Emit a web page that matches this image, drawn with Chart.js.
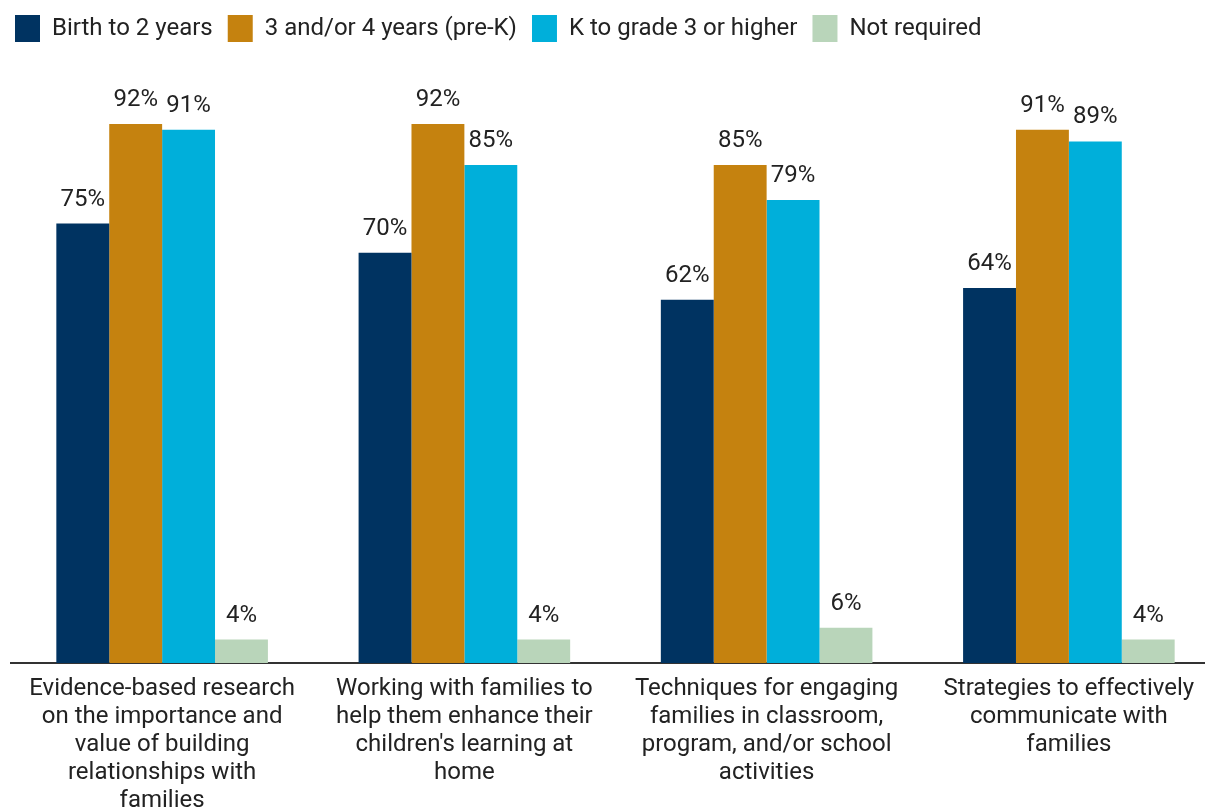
<!DOCTYPE html>
<html>
<head>
<meta charset="utf-8">
<script src="https://cdn.jsdelivr.net/npm/chart.js@4/dist/chart.umd.min.js"></script>
<style>
  html, body { margin: 0; padding: 0; background: #fff; overflow: hidden; }
  #wrap { width: 1220px; height: 810px; position: relative; }
</style>
</head>
<body>
<div id="wrap"><canvas id="trainingChart"></canvas></div>
<script>
const topics = [
    ['Evidence-based research', 'on the importance and', 'value of building', 'relationships with', 'families'],
    ['Working with families to', 'help them enhance their', "children's learning at", 'home'],
    ['Techniques for engaging', 'families in classroom,', 'program, and/or school', 'activities'],
    ['Strategies to effectively', 'communicate with', 'families']
];

const seriesNames = ['Birth to 2 years', '3 and/or 4 years (pre-K)', 'K to grade 3 or higher', 'Not required'];
const birthTo2 = [75, 70, 62, 64];
const preK = [92, 92, 85, 91];
const kTo3 = [91, 85, 79, 89];
const notRequired = [4, 4, 6, 4];
const colors = ['#003361', '#C5820F', '#00AFDA', '#B9D5BA'];

const textColor = '#222222';
const fontFamily = 'Roboto, "Noto Sans", sans-serif';

// value labels above each bar
const barLabels = {
    id: 'barLabels',
    afterDatasetsDraw(chart) {
        const ctx = chart.ctx;
        ctx.save();
        ctx.font = '24px ' + fontFamily;
        ctx.fillStyle = textColor;
        ctx.textAlign = 'center';
        ctx.textBaseline = 'middle';
        chart.data.datasets.forEach((ds, i) => {
            chart.getDatasetMeta(i).data.forEach((bar, j) => {
                ctx.fillText(ds.data[j] + '%', bar.x, bar.y - 24);
            });
        });
        ctx.restore();
    }
};

// keep a fixed gap between the legend and the plot
const legendSpace = {
    id: 'legendSpace',
    beforeInit(chart) {
        const fit = chart.legend.fit;
        chart.legend.fit = function () {
            fit.bind(chart.legend)();
            this.height = 77;
        };
    }
};

const allSeries = [birthTo2, preK, kTo3, notRequired];

new Chart(document.getElementById('trainingChart'), {
    type: 'bar',
    data: {
        labels: topics,
        datasets: allSeries.map((values, i) => ({
            label: seriesNames[i],
            data: values,
            backgroundColor: colors[i],
            borderWidth: 0,
            categoryPercentage: 0.7,
            barPercentage: 1.0
        }))
    },
    options: {
        responsive: true,
        maintainAspectRatio: false,
        animation: false,
        layout: { padding: 0 },
        plugins: {
            tooltip: { enabled: false },
            legend: {
                position: 'top',
                align: 'start',
                labels: {
                    boxWidth: 25,
                    boxHeight: 27,
                    padding: 15,
                    color: textColor,
                    font: { family: fontFamily, size: 24 }
                }
            }
        },
        scales: {
            x: {
                grid: { display: false, drawTicks: false },
                border: { display: true, color: '#333333', width: 2 },
                ticks: {
                    color: textColor,
                    padding: 12,
                    maxRotation: 0,
                    autoSkip: false,
                    font: { family: fontFamily, size: 24, lineHeight: 1.17 }
                },
                afterFit(scale) { scale.height = 147; }
            },
            y: {
                min: 0,
                max: 100,
                grid: { display: false },
                border: { display: false },
                ticks: { display: false },
                afterFit(scale) { scale.width = 11; }
            }
        }
    },
    plugins: [barLabels, legendSpace]
});
</script>
</body>
</html>
